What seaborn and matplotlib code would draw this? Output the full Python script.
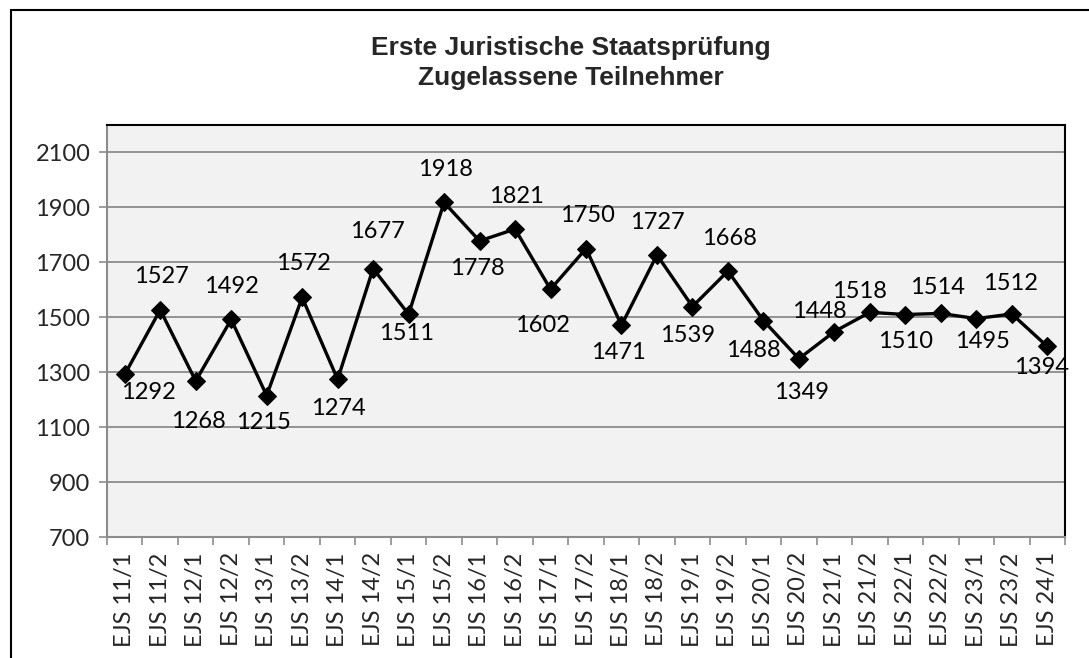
import matplotlib
matplotlib.use("Agg")
import matplotlib.pyplot as plt
import seaborn as sns
import pandas as pd
from matplotlib.patches import Rectangle

sns.set_style("white")
plt.rcParams["font.family"] = ["Lato", "DejaVu Sans"]

# data
sessions = ["EJS 11/1", "EJS 11/2", "EJS 12/1", "EJS 12/2", "EJS 13/1", "EJS 13/2",
            "EJS 14/1", "EJS 14/2", "EJS 15/1", "EJS 15/2", "EJS 16/1", "EJS 16/2",
            "EJS 17/1", "EJS 17/2", "EJS 18/1", "EJS 18/2", "EJS 19/1", "EJS 19/2",
            "EJS 20/1", "EJS 20/2", "EJS 21/1", "EJS 21/2", "EJS 22/1", "EJS 22/2",
            "EJS 23/1", "EJS 23/2", "EJS 24/1"]
teilnehmer = [1292, 1527, 1268, 1492, 1215, 1572, 1274, 1677, 1511, 1918, 1778, 1821,
              1602, 1750, 1471, 1727, 1539, 1668, 1488, 1349, 1448, 1518, 1510, 1514,
              1495, 1512, 1394]
y_ticks = [700, 900, 1100, 1300, 1500, 1700, 1900, 2100]

# label placement (pixel offsets from each marker), as in the Excel original
label_dx = [24, 1, 3, 0, -3, 1, 1, 4, -2, 1, -2, 1, -8, 1, -3, 0, -5, 2, -10, 3,
            -15, -10, 0, -3, 6, -1, -6]
label_dy = [-18, 33, -41, 33, -27, 34, -29, 37, -19, 33, -28, 33, -36, 33, -27, 32,
            -29, 33, -30, -34, 20, 21, -27, 26, -23, 30, -21]

df = pd.DataFrame({"session": sessions, "teilnehmer": teilnehmer})

fig = plt.figure(figsize=(10.89, 6.58), dpi=100)
ax = fig.add_axes([107 / 1089, 1 - 537 / 658, (1065 - 107) / 1089, (537 - 125) / 658])
ax.set_facecolor("#F2F2F2")

# outer chart border (only top and left visible in the crop)
fig.patches.append(Rectangle((11 / 1089, -0.1), 1.2, (648 / 658) + 0.1,
                             transform=fig.transFigure, fill=False,
                             edgecolor="black", linewidth=1.5, zorder=10))

sns.lineplot(data=df, x="session", y="teilnehmer", sort=False, ax=ax,
             color="black", linewidth=2.4, marker="D", markersize=9,
             markeredgecolor="black", zorder=3)

for i, (s, v) in enumerate(zip(sessions, teilnehmer)):
    ax.annotate(str(v), (i, v), xytext=(label_dx[i], label_dy[i]),
                textcoords="offset pixels", ha="center", va="center",
                fontsize=17, color="black", zorder=4, annotation_clip=False)

ax.set_ylim(700, 2200)
ax.set_xlim(-0.5, len(sessions) - 0.5)
ax.set_yticks(y_ticks)
ax.yaxis.grid(True, color="#8C8C8C", linewidth=1.3)
ax.set_axisbelow(True)
ax.tick_params(axis="y", labelsize=17, length=6, width=1.2, color="#8C8C8C",
               direction="out", left=True, pad=6)

ax.set_xticks(range(len(sessions)))
ax.set_xticklabels(sessions, rotation=90, fontsize=17)
ax.set_xticks([k - 0.5 for k in range(len(sessions) + 1)], minor=True)
ax.tick_params(axis="x", which="major", length=0, pad=11)
ax.tick_params(axis="x", which="minor", length=6, width=1.2, color="#8C8C8C",
               direction="out", bottom=True)
ax.set_xlabel("")
ax.set_ylabel("")

for side in ["top", "right"]:
    ax.spines[side].set_color("black")
    ax.spines[side].set_linewidth(1.5)
for side in ["left", "bottom"]:
    ax.spines[side].set_color("#8C8C8C")
    ax.spines[side].set_linewidth(1.5)

fig.text(571 / 1089, 1 - 63 / 658, "Erste Juristische Staatsprüfung\nZugelassene Teilnehmer",
         ha="center", va="center", fontsize=19, fontweight="bold",
         family=["Liberation Sans", "DejaVu Sans"], linespacing=1.35)

fig.savefig("out.png", dpi=100)
